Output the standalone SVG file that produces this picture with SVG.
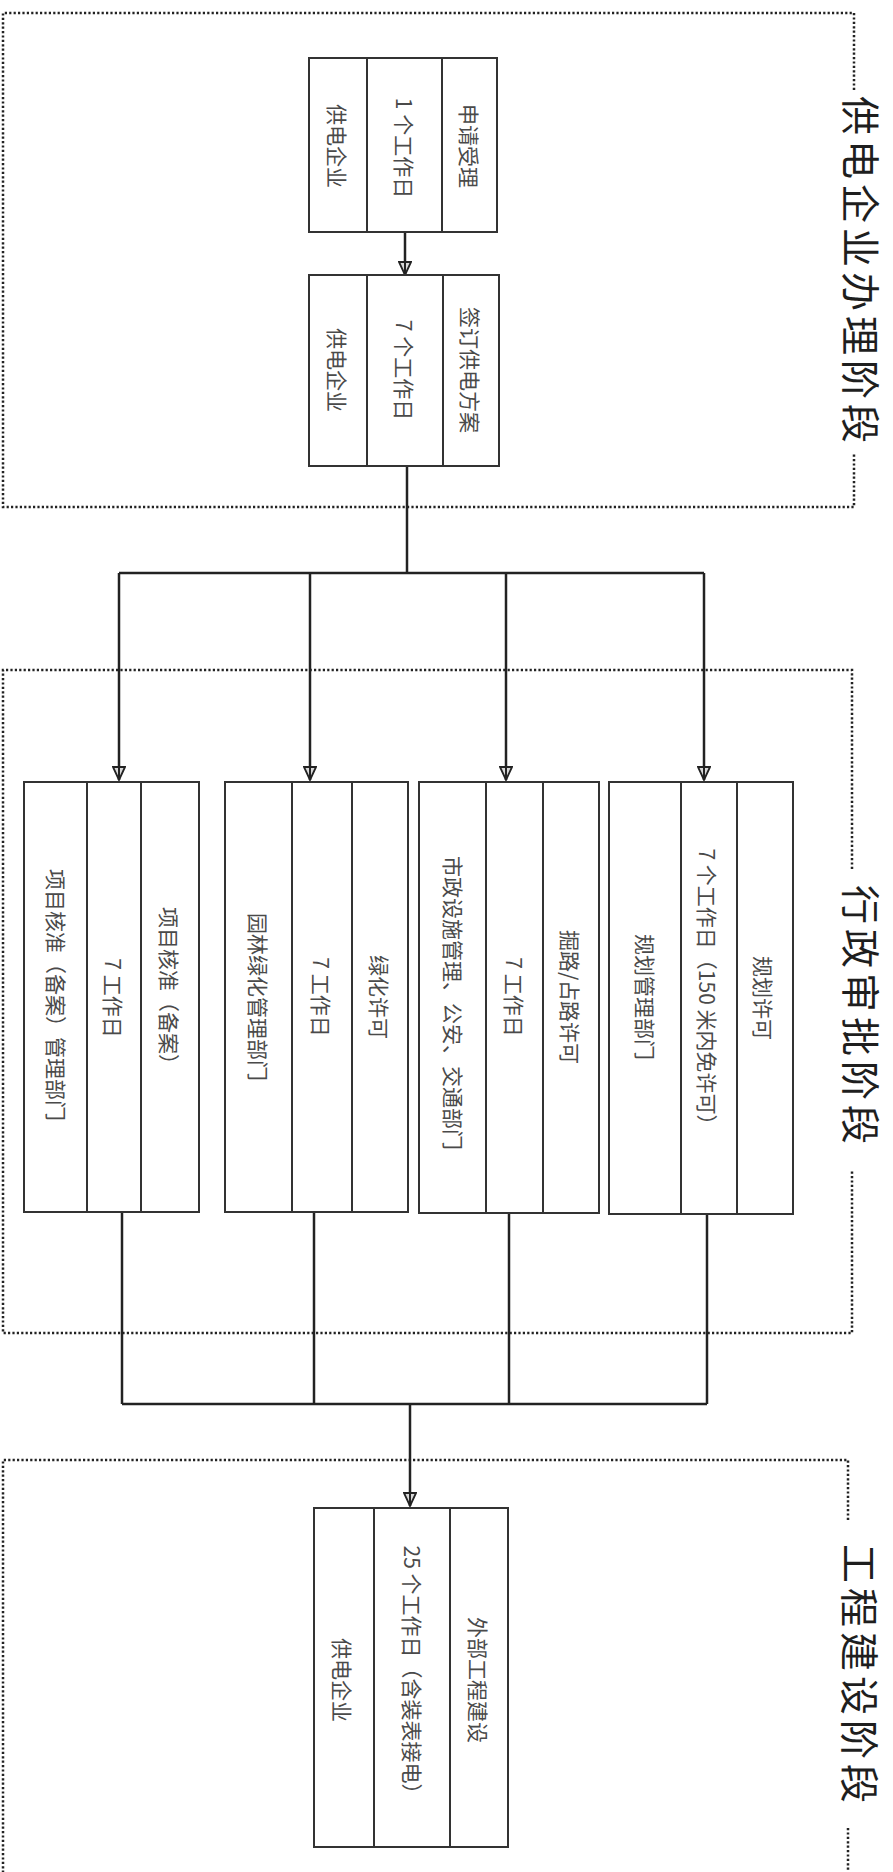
<svg xmlns="http://www.w3.org/2000/svg" width="893" height="1872" viewBox="0 0 893 1872">
<style>
.bg{fill:#ffffff}
.frame{fill:none;stroke:#222;stroke-width:2.5;stroke-dasharray:2.2 2.2}
.box{fill:#fff;stroke:#333;stroke-width:2}
.div{stroke:#333;stroke-width:2}
.conn{fill:none;stroke:#222;stroke-width:2.5}
.t{font-family:"Noto Sans CJK SC","Liberation Sans",sans-serif;font-size:21px;fill:#4a4a4a;text-anchor:middle;dominant-baseline:central}
.lbl{font-family:"Noto Sans CJK SC","Liberation Sans",sans-serif;font-size:39px;letter-spacing:5px;fill:#1e1e1e;text-anchor:middle;dominant-baseline:central}
</style>
<defs>
<marker id="arr" markerUnits="userSpaceOnUse" markerWidth="16" markerHeight="14" refX="13" refY="6" orient="auto" viewBox="-1 -1 16 14">
<path d="M0,0 L13,6 L0,12 z" fill="#d8d8d8" stroke="#222" stroke-width="1.8" stroke-linejoin="miter"/>
<path d="M0,6 L12,6" stroke="#222" stroke-width="2"/>
</marker>
</defs>
<rect class="bg" x="0" y="0" width="893" height="1872"/>

<g id="stage1">
<path class="frame" d="M854,90 V13 H3 V507 H854 V454"/>
<text class="lbl" transform="translate(863,272) rotate(90)">供电企业办理阶段</text>
</g>
<g id="stage2">
<path class="frame" d="M852,869 V670 H3 V1333 H852 V1170"/>
<text class="lbl" transform="translate(863,1017) rotate(90)">行政审批阶段</text>
</g>
<g id="stage3">
<path class="frame" d="M848,1520 V1460 H3 V1872"/>
<path class="frame" d="M848,1828 V1872"/>
<text class="lbl" transform="translate(862,1676) rotate(90)">工程建设阶段</text>
</g>

<g id="connectors">
<path class="conn" d="M405,232 V275" marker-end="url(#arr)"/>
<path class="conn" d="M407,466 V573"/>
<path class="conn" d="M119,573 H704"/>
<path class="conn" d="M119,573 V780" marker-end="url(#arr)"/>
<path class="conn" d="M310,573 V780" marker-end="url(#arr)"/>
<path class="conn" d="M506,573 V780" marker-end="url(#arr)"/>
<path class="conn" d="M704,573 V780" marker-end="url(#arr)"/>
<path class="conn" d="M122,1212 V1404"/>
<path class="conn" d="M314,1212 V1404"/>
<path class="conn" d="M509,1213 V1404"/>
<path class="conn" d="M707,1214 V1404"/>
<path class="conn" d="M122,1404 H707"/>
<path class="conn" d="M410,1404 V1506" marker-end="url(#arr)"/>
</g>

<g id="node-apply">
<rect class="box" x="309" y="58" width="188" height="174"/>
<line class="div" x1="367" y1="58" x2="367" y2="232"/>
<line class="div" x1="442" y1="58" x2="442" y2="232"/>
<text class="t" transform="translate(469.5,146) rotate(90)">申请受理</text>
<text class="t" transform="translate(404.5,148) rotate(90)">1 个工作日</text>
<text class="t" transform="translate(338,146) rotate(90)">供电企业</text>
</g>

<g id="node-plan">
<rect class="box" x="309" y="275" width="190" height="191"/>
<line class="div" x1="367" y1="275" x2="367" y2="466"/>
<line class="div" x1="443" y1="275" x2="443" y2="466"/>
<text class="t" transform="translate(471,370) rotate(90)">签订供电方案</text>
<text class="t" transform="translate(405,370) rotate(90)">7 个工作日</text>
<text class="t" transform="translate(338,370) rotate(90)">供电企业</text>
</g>

<g id="node-project">
<rect class="box" x="24" y="782" width="175" height="430"/>
<line class="div" x1="87" y1="782" x2="87" y2="1212"/>
<line class="div" x1="141" y1="782" x2="141" y2="1212"/>
<text class="t" transform="translate(170,991) rotate(90)">项目核准（备案）</text>
<text class="t" transform="translate(114,998) rotate(90)">7 工作日</text>
<text class="t" transform="translate(57,995) rotate(90)">项目核准（备案）管理部门</text>
</g>

<g id="node-green">
<rect class="box" x="225" y="782" width="183" height="430"/>
<line class="div" x1="292" y1="782" x2="292" y2="1212"/>
<line class="div" x1="352" y1="782" x2="352" y2="1212"/>
<text class="t" transform="translate(380,997) rotate(90)">绿化许可</text>
<text class="t" transform="translate(322,997) rotate(90)">7 工作日</text>
<text class="t" transform="translate(258.5,997) rotate(90)">园林绿化管理部门</text>
</g>

<g id="node-road">
<rect class="box" x="419" y="782" width="180" height="431"/>
<line class="div" x1="486" y1="782" x2="486" y2="1213"/>
<line class="div" x1="543" y1="782" x2="543" y2="1213"/>
<text class="t" transform="translate(571,997) rotate(90)">掘路/占路许可</text>
<text class="t" transform="translate(514.5,997) rotate(90)">7 工作日</text>
<text class="t" transform="translate(454,1003) rotate(90)">市政设施管理、公安、交通部门</text>
</g>

<g id="node-planning">
<rect class="box" x="609" y="782" width="184" height="432"/>
<line class="div" x1="681" y1="782" x2="681" y2="1214"/>
<line class="div" x1="737" y1="782" x2="737" y2="1214"/>
<text class="t" transform="translate(764,998) rotate(90)">规划许可</text>
<text class="t" transform="translate(708,992) rotate(90)">7 个工作日（150 米内免许可）</text>
<text class="t" transform="translate(646,997) rotate(90)">规划管理部门</text>
</g>

<g id="node-build">
<rect class="box" x="314" y="1508" width="194" height="339"/>
<line class="div" x1="374" y1="1508" x2="374" y2="1847"/>
<line class="div" x1="450" y1="1508" x2="450" y2="1847"/>
<text class="t" transform="translate(479,1680) rotate(90)">外部工程建设</text>
<text class="t" transform="translate(413,1675) rotate(90)">25 个工作日（含装表接电）</text>
<text class="t" transform="translate(343,1680) rotate(90)">供电企业</text>
</g>
</svg>
